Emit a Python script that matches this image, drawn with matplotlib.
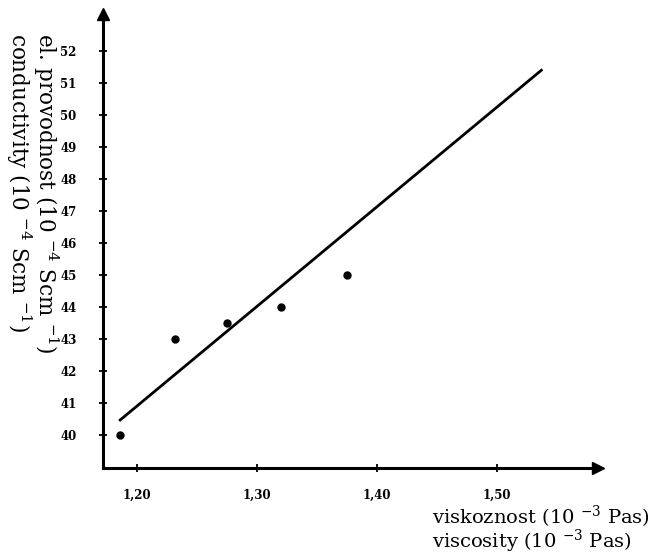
import matplotlib
matplotlib.use("Agg")
import matplotlib.pyplot as plt

plt.rcParams['mathtext.fontset'] = 'dejavuserif'

# data
viscosity = [1.186, 1.232, 1.275, 1.320, 1.375]
conductivity = [40.0, 43.0, 43.5, 44.0, 45.0]
fit_x = [1.186, 1.537]
fit_y = [40.47, 51.4]
x_ticks = [1.20, 1.30, 1.40, 1.50]
x_tick_labels = ["1,20", "1,30", "1,40", "1,50"]
y_ticks = list(range(40, 53))
y_tick_labels = [str(v) for v in y_ticks]

fig = plt.figure(figsize=(6.66, 5.54), dpi=100)
ax = fig.add_axes([103/666, 86/554, (598-103)/666, (554-86-14)/554])
ax.set_xlim(1.1717, 1.1717 + (598-103)/1200)
ax.set_ylim(38.97, 38.97 + (554-86-14)/32)

for s in ['top', 'right']:
    ax.spines[s].set_visible(False)
for s in ['left', 'bottom']:
    ax.spines[s].set_linewidth(2.2)

# arrow heads
ax.plot(1, 0, ">k", transform=ax.transAxes, clip_on=False, markersize=8)
ax.plot(0, 1, "^k", transform=ax.transAxes, clip_on=False, markersize=8)

ax.plot(fit_x, fit_y, color='black', linewidth=2.0)
ax.plot(viscosity, conductivity, 'o', color='black', markersize=5)

ax.set_xticks(x_ticks)
ax.set_xticklabels(x_tick_labels, fontsize=8.5, fontweight='bold', family='DejaVu Serif')
ax.set_yticks(y_ticks)
ax.set_yticklabels(y_tick_labels, fontsize=8.5, fontweight='bold', family='DejaVu Serif')
ax.tick_params(direction='inout', length=6, width=1.3)
ax.tick_params(axis='x', pad=12)
ax.tick_params(axis='y', pad=16)

fig.text(46/666, 1 - 33/554, "el. provodnost (10 $^{-4}$ Scm $^{-1}$)", rotation=270,
         ha='center', va='top', fontsize=15.5, family='DejaVu Serif')
fig.text(19/666, 1 - 33/554, "conductivity (10 $^{-4}$ Scm $^{-1}$)", rotation=270,
         ha='center', va='top', fontsize=15.5, family='DejaVu Serif')

fig.text(432/666, 1 - 517/554, "viskoznost (10 $^{-3}$ Pas)", ha='left', va='center',
         fontsize=14, family='DejaVu Serif')
fig.text(432/666, 1 - 541/554, "viscosity (10 $^{-3}$ Pas)", ha='left', va='center',
         fontsize=14, family='DejaVu Serif')

fig.savefig("out.png", dpi=100)
